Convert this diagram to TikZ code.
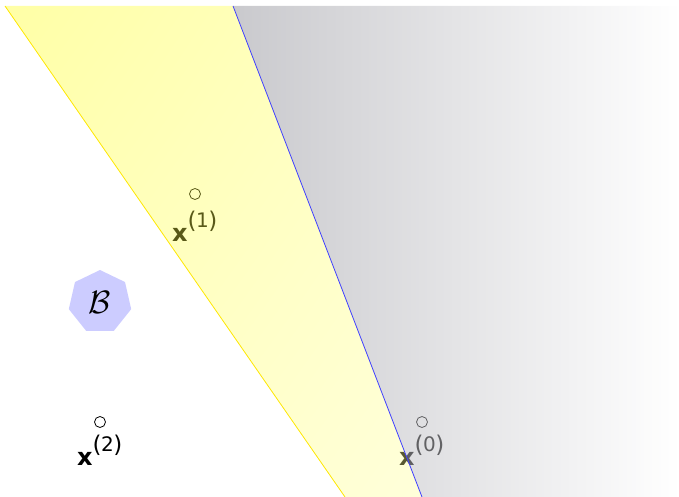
\documentclass[tikz,border=0pt]{standalone}
\usepackage{fontspec}
\newfontfamily\labfont{DejaVu Sans}
\usetikzlibrary{shapes.geometric,shadings}
\definecolor{grayL}{RGB}{148,148,156}
\newcommand{\xlab}[1]{{\labfont\fontsize{24}{28}\selectfont\bfseries x}\raisebox{13pt}{\labfont\fontsize{23}{23}\selectfont(\kern-0.5pt\raisebox{1pt}{\fontsize{20}{20}\selectfont #1}\kern-0.5pt)}}
\begin{document}
\begin{tikzpicture}[x=1pt,y=-1pt,
  lbl/.style={inner sep=0pt, anchor=base west},
  ptmark/.style={circle,draw,minimum size=11pt,inner sep=0pt,line width=0.8pt},
  grayregion/.style={fill opacity=0.5, left color=grayL, right color=white},
  yellowregion/.style={fill opacity=0.35, upper left=yellow, upper right=yellow!65!white,
    lower left=yellow!70!white, lower right=yellow!42!white},
  heptagon/.style={regular polygon, regular polygon sides=7, fill=blue!20, minimum size=64pt, inner sep=0pt,
    font=\fontsize{24.88}{28}\selectfont}]
\useasboundingbox (0,0) rectangle (679,497);
% points and labels
\node[ptmark] (p1) at (195,194) {};
\node[ptmark] (p2) at (100,422) {};
\node[ptmark] (p0) at (422,422) {};
\node[lbl] (l1) at (172,241) {\xlab{1}};
\node[lbl] (l2) at (77,465) {\xlab{2}};
\node[lbl] (l0) at (399,465) {\xlab{0}};
% region corners
\coordinate (yt) at (5,6);
\coordinate (bt) at (233,6);
\coordinate (rt) at (679,6);
\coordinate (rb) at (679,497);
\coordinate (bb) at (422,497);
\coordinate (yb) at (345,497);
% regions
\shade[grayregion] (bt) -- (rt) -- (rb) -- (bb) -- cycle;
\shade[yellowregion] (yt) -- (bt) -- (bb) -- (yb) -- cycle;
\draw[blue!75, line width=0.8pt] (bt) -- (bb);
\draw[yellow!90!orange, line width=0.8pt] (yt) -- (yb);
% heptagon
\node[heptagon] (B) at (100,302) {\scalebox{1.3}{$\mathcal{B}$}};
\end{tikzpicture}
\end{document}
